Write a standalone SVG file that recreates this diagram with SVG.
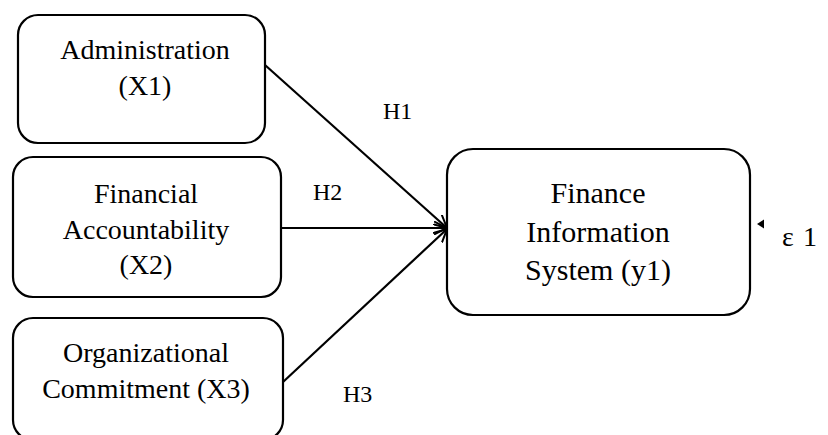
<svg xmlns="http://www.w3.org/2000/svg" width="828" height="435" viewBox="0 0 828 435">
<style>
.box{fill:#fff;stroke:#000;stroke-width:2.2}
.t{font-family:'Liberation Serif','Times New Roman','DejaVu Serif',serif;font-size:28px;fill:#000;text-anchor:middle}
.t4{font-size:30px}
.lbl{font-family:'Liberation Serif','Times New Roman','DejaVu Serif',serif;font-size:24px;fill:#000}
.edge{stroke:#000;stroke-width:2.2;fill:none;marker-end:url(#arr)}
</style>
<defs>
<marker id="arr" viewBox="0 0 14 14" refX="13" refY="7" markerWidth="14" markerHeight="14" markerUnits="userSpaceOnUse" orient="auto">
<path d="M0,0.5 L13,7 L0,13.5" fill="none" stroke="#000" stroke-width="2"/>
</marker>
</defs>
<rect width="828" height="435" fill="#fff"/>
<g id="x1">
<rect class="box" x="18" y="15" width="247" height="128" rx="20"/>
<text class="t" x="145" y="59">Administration</text>
<text class="t" x="145" y="95">(X1)</text>
</g>
<g id="x2">
<rect class="box" x="13" y="157" width="268" height="140" rx="20"/>
<text class="t" x="146" y="203">Financial</text>
<text class="t" x="146" y="239">Accountability</text>
<text class="t" x="146" y="274">(X2)</text>
</g>
<g id="x3">
<rect class="box" x="13" y="318" width="270" height="122" rx="20"/>
<text class="t" x="146" y="362">Organizational</text>
<text class="t" x="146" y="398">Commitment (X3)</text>
</g>
<g id="y1">
<rect class="box" x="447" y="149" width="303" height="166" rx="26"/>
<text class="t t4" x="598" y="203">Finance</text>
<text class="t t4" x="598" y="242">Information</text>
<text class="t t4" x="598" y="280">System (y1)</text>
</g>
<g id="edges">
<line class="edge" x1="265" y1="65" x2="447" y2="228"/>
<line class="edge" x1="281" y1="228" x2="447" y2="228"/>
<line class="edge" x1="283" y1="382" x2="447" y2="229"/>
<text class="lbl" x="383" y="119">H1</text>
<text class="lbl" x="313" y="200">H2</text>
<text class="lbl" x="343" y="402">H3</text>
</g>
<g id="e1">
<polygon points="757,224 764,219.5 764,228.5" fill="#000"/>
<text class="lbl" x="782" y="246" style="font-size:28px">ε <tspan x="803">1</tspan></text>
</g>
</svg>
